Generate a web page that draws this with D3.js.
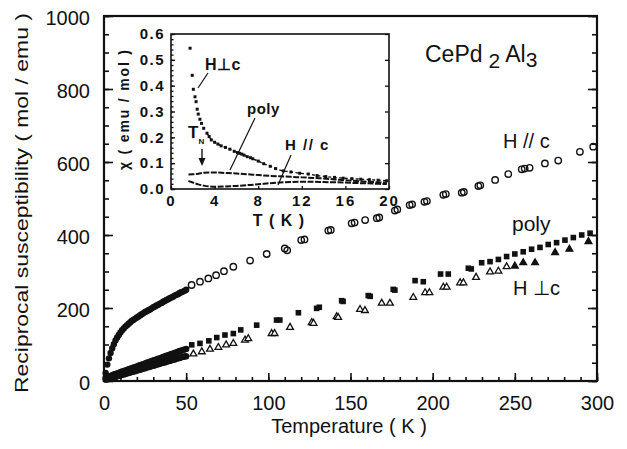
<!DOCTYPE html>
<html><head><meta charset="utf-8">
<script src="https://cdn.jsdelivr.net/npm/d3@7"></script>
<style>
html,body{margin:0;padding:0;background:#fff;}
svg{display:block;}
text{font-family:"Liberation Sans",Arial,Helvetica,sans-serif;fill:#111;}
.b{font-weight:bold;}
</style></head>
<body>
<svg id="c" width="627" height="449"></svg>
<script>
// ---------- main chart data (1/chi, mol/emu vs T, K) ----------
const denseT = [1,2,3,4,5,6,7,8,9,10,11,12,13,14,15,16,17,18,19,20,21,22,23,24,25,26,27,28,29,30,31,32,33,34,35,36,37,38,39,40,41,42,43,44,45,46,47,48,49,50];
const parDense  = [22,45,62,77,90,101,111,119,126,133,139,144,149,153,157,161,165,168,171,174,177,180,183,186,189,191,194,196,199,202,204,207,209,212,214,217,219,222,224,227,229,231,234,236,238,241,243,245,247,250];
const polyDense = [9,11,13,14,16,18,19,21,22,24,26,27,29,30,32,34,35,37,38,40,42,43,45,46,48,50,51,53,54,56,58,59,61,62,64,66,67,69,70,72,74,75,77,78,80,82,83,85,86,88];
const perpDense = [4,5,6,8,9,10,11,13,14,15,17,18,19,21,22,23,25,26,27,29,30,31,33,34,35,37,38,39,41,42,43,45,46,47,49,50,51,53,54,55,57,58,59,61,62,63,65,66,67,68];

const parT = [53.3,58.4,63.5,68.2,73,78.7,88.9,99,110,111.5,120,122,136.5,138,150.7,152.5,158.9,166,167.5,177,178.5,186,187.5,195,196.5,206.5,208,217.7,219,227.8,229,238,246,254.2,256,259,268.3,276.4,289.6,297.7];
const parV = [263,272,281,290,301,313,330,348,363,358,386,388,412,414,432,434,441,446,448,467,470,482,484,491,493,510,512,516,518,534,536,551,567,580,582,584,596,604,628,642];

const polyT = [53.4,58.4,63.8,68.6,73.6,78.7,83.2,92.9,105,107,118.3,129.4,131,144.6,145.5,160.8,162,176,177,189.3,194.3,204.8,209.5,221.7,223.5,229.8,234.9,240,245,250,255.1,260.2,265.3,270.3,275.4,280.5,285.6,290.7,295.8];
const polyV = [99,103,110,119,126,130,140,153,167,167,187,199,202,220,218,234,232,251,249,275,272,293,293,309,307,324,327,333,341,348,354,361,366,374,379,386,393,400,405];

const perpT = [54.4,59.5,64.5,69.6,74.3,78.7,85.8,87.8,102,103.8,113.2,126.4,127.5,141.6,142.5,155.8,158.8,169,174,188.2,195.4,198,206.5,208.5,216.7,218.7,226.4,234.9,240,245,250,255.1,262.3,274.5,283.2,294.8];
const perpV = [74,80,87,92,99,103,112,116,130,130,147,160,158,176,174,196,193,213,213,229,242,242,257,257,269,269,284,299,301,313,315,324,324,352,361,382];

const xTicks = [0,50,100,150,200,250,300];
const yTicks = [0,200,400,600,800,1000];

// ---------- inset data (chi, emu/mol vs T, K) ----------
const inPerpT = [1.75,1.95,2.05,2.2,2.3,2.4,2.5,2.65,2.8,3.0,3.3,3.5,3.7,4.0,4.3,4.6,5.0,5.4,5.8,6.1,6.3,6.5,6.7,7.0,7.3,7.5,8.0,8.5,9.1,9.6,10.3,11.0,11.8,12.6,13.4,14.2,15.0,15.8,16.6,17.4,18.2,19.0,19.8];
const inPerpV = [0.545,0.44,0.386,0.357,0.338,0.309,0.29,0.27,0.254,0.235,0.216,0.203,0.19,0.181,0.174,0.167,0.161,0.154,0.146,0.141,0.138,0.135,0.131,0.125,0.121,0.117,0.108,0.098,0.088,0.079,0.070,0.066,0.061,0.058,0.052,0.048,0.045,0.042,0.040,0.038,0.036,0.034,0.032];
const inPolyT = [1.6,2.0,2.5,3.0,3.5,4.0,5.0,6.0,7.0,8.0,9.0,10,11,12,13,14,15,16,17,18,19,19.8];
const inPolyV = [0.056,0.057,0.059,0.063,0.064,0.064,0.062,0.060,0.057,0.054,0.051,0.049,0.047,0.045,0.043,0.041,0.037,0.034,0.031,0.028,0.026,0.024];
const inParT = [1.6,2.0,2.5,3.0,3.5,4.0,5.0,6.0,7.0,8.0,9.0,10,11,12,13,14,15,16,17,18,19,19.8];
const inParV = [0.031,0.025,0.018,0.013,0.010,0.009,0.010,0.012,0.015,0.018,0.022,0.025,0.027,0.028,0.028,0.027,0.026,0.025,0.023,0.022,0.020,0.019];
const inXTicks = [0,4,8,12,16,20];
const inYTicks = [0,0.1,0.2,0.3,0.4,0.5,0.6];

const svg = d3.select("#c");
const x = d3.scaleLinear().domain([0,300]).range([104,597]);
const y = d3.scaleLinear().domain([0,1000]).range([381,16]);

function styleAxis(g){ g.select(".domain").remove(); g.selectAll("line").attr("stroke","#111").attr("stroke-width",1.6); }

// minor ticks
svg.append("g").attr("transform","translate(0,381)")
  .call(d3.axisBottom(x).tickValues(d3.range(0,301,10)).tickSize(-4).tickFormat(""))
  .call(styleAxis);
svg.append("g").attr("transform","translate(104,0)")
  .call(d3.axisLeft(y).tickValues(d3.range(0,1001,50)).tickSize(-5).tickFormat(""))
  .call(styleAxis);
svg.append("g").attr("transform","translate(597,0)")
  .call(d3.axisRight(y).tickValues(d3.range(0,1001,50)).tickSize(-5).tickFormat(""))
  .call(styleAxis);
// major ticks
const gx = svg.append("g").attr("transform","translate(0,381)")
  .call(d3.axisBottom(x).tickValues(xTicks).tickSize(-8).tickPadding(15).tickFormat(d3.format("d")))
  .call(styleAxis);
const gy = svg.append("g").attr("transform","translate(104,0)")
  .call(d3.axisLeft(y).tickValues(yTicks).tickSize(-9).tickPadding(14).tickFormat(d3.format("d")))
  .call(styleAxis);
svg.append("g").attr("transform","translate(597,0)")
  .call(d3.axisRight(y).tickValues(yTicks).tickSize(-9).tickFormat(""))
  .call(styleAxis);
[gx,gy].forEach(g=>g.selectAll("text").attr("font-size",20).attr("font-family","Liberation Sans, Arial, sans-serif").attr("fill","#111"));
gy.selectAll("text").attr("dy","0.42em");

// frame
svg.append("rect").attr("x",104).attr("y",16).attr("width",493).attr("height",365)
  .attr("fill","none").attr("stroke","#111").attr("stroke-width",2.2);

// dense low-T points
const dense = svg.append("g");
[parDense, polyDense, perpDense].forEach(arr=>{
  dense.selectAll(null).data(denseT.map((t,i)=>[t,arr[i]])).enter().append("circle")
    .attr("cx",d=>x(d[0])).attr("cy",d=>y(d[1])).attr("r",3.2).attr("fill","#111");
});
// H//c sparse: open circles
svg.append("g").selectAll("circle").data(parT.map((t,i)=>[t,parV[i]])).enter().append("circle")
  .attr("cx",d=>x(d[0])).attr("cy",d=>y(d[1])).attr("r",3.2)
  .attr("fill","none").attr("stroke","#111").attr("stroke-width",1.4);
// poly: filled squares
svg.append("g").selectAll("rect").data(polyT.map((t,i)=>[t,polyV[i]])).enter().append("rect")
  .attr("x",d=>x(d[0])-2.8).attr("y",d=>y(d[1])-2.8).attr("width",5.6).attr("height",5.6).attr("fill","#111");
// H perp c: triangles
const tri = d3.symbol().type(d3.symbolTriangle).size(20);
svg.append("g").selectAll("path").data(perpT.map((t,i)=>[t,perpV[i]])).enter().append("path")
  .attr("d",tri).attr("transform",d=>`translate(${x(d[0])},${y(d[1])})`)
  .attr("fill",d=>d[0]>=250?"#111":"#fff").attr("stroke","#111").attr("stroke-width",1.3);

// main labels
svg.append("text").attr("x",349).attr("y",433).attr("text-anchor","middle").attr("font-size",20).text("Temperature ( K )");
svg.append("text").attr("transform","translate(28,203) rotate(-90)").attr("text-anchor","middle")
  .attr("font-size",18).attr("textLength",380).attr("lengthAdjust","spacingAndGlyphs")
  .text("Reciprocal  susceptibility ( mol / emu )");
const ttl = svg.append("text").attr("x",425).attr("y",62).attr("font-size",23);
ttl.append("tspan").text("CePd");
ttl.append("tspan").attr("dx",6).attr("dy",6).attr("font-size",21).text("2");
ttl.append("tspan").attr("dx",5).attr("dy",-6).text("Al");
ttl.append("tspan").attr("dy",5).attr("font-size",21).text("3");
svg.append("text").attr("x",503).attr("y",148).attr("font-size",20).text("H // c");
svg.append("text").attr("x",512).attr("y",231).attr("font-size",21).text("poly");
svg.append("text").attr("x",513).attr("y",295).attr("font-size",20).text("H \u22A5c");

// ---------- inset ----------
const xi = d3.scaleLinear().domain([0,20]).range([171,389]);
const yi = d3.scaleLinear().domain([0,0.6]).range([189,34]);
const ins = svg.append("g");
ins.append("rect").attr("x",171).attr("y",34).attr("width",218).attr("height",155).attr("fill","#fff");
function sA(g){ g.select(".domain").remove(); g.selectAll("line").attr("stroke","#111").attr("stroke-width",1.3); }
ins.append("g").attr("transform","translate(171,0)")
  .call(d3.axisLeft(yi).tickValues(d3.range(0,0.601,0.02)).tickSize(-2.5).tickFormat("")).call(sA);
const giy = ins.append("g").attr("transform","translate(171,0)")
  .call(d3.axisLeft(yi).tickValues(inYTicks).tickSize(-4).tickPadding(6).tickFormat(d3.format(".1f"))).call(sA);
ins.append("g").attr("transform","translate(389,0)")
  .call(d3.axisRight(yi).tickValues(inYTicks).tickSize(-4).tickFormat("")).call(sA);
const gix = ins.append("g").attr("transform","translate(0,189)")
  .call(d3.axisBottom(xi).tickValues(inXTicks).tickSize(-3).tickPadding(6).tickFormat(d3.format("d"))).call(sA);
[giy,gix].forEach(g=>g.selectAll("text").attr("font-size",15).attr("font-weight","bold")
  .attr("font-family","Liberation Sans, Arial, sans-serif").attr("fill","#111").attr("letter-spacing",2));
giy.selectAll("text").attr("letter-spacing",1.5);
ins.append("rect").attr("x",171).attr("y",34).attr("width",218).attr("height",155)
  .attr("fill","none").attr("stroke","#111").attr("stroke-width",1.6);

const ln = d3.line().x(d=>xi(d[0])).y(d=>yi(d[1])).curve(d3.curveMonotoneX);
const polyPts = inPolyT.map((t,i)=>[t,inPolyV[i]]);
const parPts = inParT.map((t,i)=>[t,inParV[i]]);
ins.append("path").attr("d",ln(polyPts)).attr("fill","none").attr("stroke","#111").attr("stroke-width",2).attr("stroke-dasharray","6,1.5");
ins.append("path").attr("d",ln(parPts)).attr("fill","none").attr("stroke","#111").attr("stroke-width",2).attr("stroke-dasharray","6,1.5");
ins.append("g").selectAll("rect").data(inPerpT.map((t,i)=>[t,inPerpV[i]])).enter().append("rect")
  .attr("x",d=>xi(d[0])-1.5).attr("y",d=>yi(d[1])-1.5).attr("width",3).attr("height",3).attr("fill","#111");
const perpLine = inPerpT.map((t,i)=>[t,inPerpV[i]]).filter(d=>d[0]>=3.3);
ins.append("path").attr("d",ln(perpLine)).attr("fill","none").attr("stroke","#111").attr("stroke-width",1.4).attr("stroke-dasharray","3,2.5");

// inset labels
ins.append("text").attr("class","b").attr("x",279).attr("y",226).attr("text-anchor","middle").attr("font-size",16).attr("letter-spacing",1).text("T ( K )");
ins.append("text").attr("class","b").attr("transform","translate(129,110) rotate(-90)").attr("text-anchor","middle")
  .attr("font-size",14).attr("textLength",120).attr("lengthAdjust","spacing").text("\u03C7 ( emu / mol )");
ins.append("text").attr("class","b").attr("x",205).attr("y",70).attr("font-size",16).attr("letter-spacing",0.5).text("H\u22A5c");
ins.append("text").attr("class","b").attr("x",247).attr("y",114).attr("font-size",15).attr("letter-spacing",0.5).text("poly");
ins.append("text").attr("class","b").attr("x",285).attr("y",150).attr("font-size",15).attr("letter-spacing",1.5).text("H // c");
const tn = ins.append("text").attr("class","b").attr("x",188).attr("y",138).attr("font-size",17);
tn.append("tspan").text("T");
tn.append("tspan").attr("dy",6).attr("font-size",8).text("N");
const lead = [[198,88,208,73],[255,118,230,170],[291,155,278,185]];
ins.selectAll("line.ld").data(lead).enter().append("line").attr("class","ld")
  .attr("x1",d=>d[0]).attr("y1",d=>d[1]).attr("x2",d=>d[2]).attr("y2",d=>d[3]).attr("stroke","#111").attr("stroke-width",1.2);
ins.append("line").attr("x1",202).attr("y1",149).attr("x2",202).attr("y2",160).attr("stroke","#111").attr("stroke-width",1.4);
ins.append("path").attr("d","M198.5,158 L205.5,158 L202,166 Z").attr("fill","#111");
</script>
</body></html>
